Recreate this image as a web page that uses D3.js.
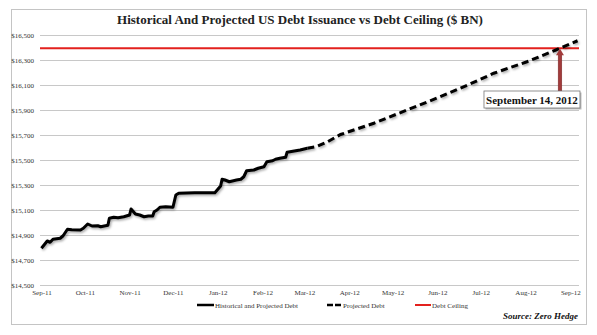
<!DOCTYPE html>
<html><head><meta charset="utf-8">
<script src="https://cdnjs.cloudflare.com/ajax/libs/d3/7.8.5/d3.min.js"></script>
<style>body{margin:0;background:#fff}svg{display:block}text{font-family:"Liberation Serif","DejaVu Serif",serif}</style>
</head><body><svg id="c" width="597" height="335"></svg>
<script>
// ---- data ----
const histDates = ["2011-09-01","2011-09-05","2011-09-07","2011-09-09","2011-09-14","2011-09-16","2011-09-19","2011-09-22","2011-09-28","2011-09-30",
 "2011-10-03","2011-10-06","2011-10-10","2011-10-12","2011-10-17","2011-10-18","2011-10-21","2011-10-24","2011-10-28",
 "2011-11-01","2011-11-02","2011-11-05","2011-11-08","2011-11-11","2011-11-14","2011-11-17","2011-11-18","2011-11-20","2011-11-22","2011-11-26",
 "2011-12-01","2011-12-03","2011-12-05","2011-12-16","2011-12-30",
 "2012-01-03","2012-01-04","2012-01-06","2012-01-09","2012-01-14","2012-01-17","2012-01-19","2012-01-21","2012-01-26","2012-01-29",
 "2012-02-02","2012-02-04","2012-02-08","2012-02-10","2012-02-13","2012-02-17","2012-02-18","2012-02-23","2012-02-27","2012-03-03"];
const histValues = [14794,14852,14842,14866,14874,14894,14946,14942,14940,14954,
 14988,14972,14974,14966,14978,15034,15042,15038,15046,
 15060,15108,15068,15060,15046,15052,15052,15086,15100,15122,15126,
 15122,15220,15234,15238,15238,
 15292,15346,15340,15326,15340,15346,15366,15414,15420,15434,
 15446,15486,15494,15506,15514,15522,15562,15572,15580,15594];
const projDates = ["2012-03-03","2012-03-09","2012-03-17","2012-03-26","2012-04-18","2012-05-11","2012-06-03","2012-06-22","2012-07-10","2012-08-02","2012-08-22","2012-09-06"];
const projValues = [15594,15606,15646,15704,15794,15900,16006,16100,16194,16286,16380,16454];
const debtCeiling = 16394;
const yTicks = [14500,14700,14900,15100,15300,15500,15700,15900,16100,16300,16500];
const xTickDates = ["2011-09-01","2011-10-01","2011-11-01","2011-12-01","2012-01-01","2012-02-01","2012-03-01","2012-04-01","2012-05-01","2012-06-01","2012-07-01","2012-08-01","2012-09-01"];
const xTickLabels = ["Sep-11","Oct-11","Nov-11","Dec-11","Jan-12","Feb-12","Mar-12","Apr-12","May-12","Jun-12","Jul-12","Aug-12","Sep-12"];
const titleText = "Historical And Projected US Debt Issuance vs Debt Ceiling ($ BN)";
const annotText = "September 14, 2012";
const legendLabels = ["Historical and Projected Debt","Projected Debt","Debt Ceiling"];
const sourceText = "Source: Zero Hedge";

// ---- chart ----
const parse = d3.timeParse("%Y-%m-%d");
const svg = d3.select("#c");
const L = 40, R = 579, T = 35, B = 285;
const x = d3.scaleTime().domain([parse("2011-08-31"), parse("2012-09-07")]).range([L, R]);
const y = d3.scaleLinear().domain([14500, 16500]).range([B, T]);

const defs = svg.append("defs");
const f = defs.append("filter").attr("id","sh").attr("x","-10%").attr("y","-10%").attr("width","120%").attr("height","130%");
f.append("feDropShadow").attr("dx",1.2).attr("dy",1.5).attr("stdDeviation",0.8).attr("flood-color","#000").attr("flood-opacity",0.35);

// outer frame
svg.append("rect").attr("x",11.5).attr("y",9.5).attr("width",575).attr("height",315)
  .attr("fill","#fff").attr("stroke","#c4c4c4");

// title
svg.append("text").attr("x",300).attr("y",24).attr("text-anchor","middle")
  .attr("font-size",13).attr("font-weight","bold").attr("fill","#222").text(titleText);

// y axis (gridlines + labels)
const yAxis = d3.axisLeft(y).tickValues(yTicks).tickSize(-(R - L)).tickPadding(6)
  .tickFormat(d => "$" + d3.format(",")(d));
const gy = svg.append("g").attr("transform",`translate(${L},0)`).call(yAxis);
gy.select(".domain").remove();
gy.selectAll(".tick line").attr("stroke","#c8c8c8");
gy.selectAll(".tick text").attr("font-size",7).attr("fill","#333")
  .attr("font-family","Liberation Serif");

// x axis labels
const xAxis = d3.axisBottom(x).tickValues(xTickDates.map(parse)).tickSize(0).tickPadding(5)
  .tickFormat((d,i) => xTickLabels[i]);
const gx = svg.append("g").attr("transform",`translate(0,${B})`).call(xAxis);
gx.select(".domain").remove();
gx.selectAll(".tick text").attr("font-size",7).attr("fill","#333")
  .attr("font-family","Liberation Serif");

// debt ceiling
svg.append("line").attr("x1",L).attr("x2",R).attr("y1",y(debtCeiling)).attr("y2",y(debtCeiling))
  .attr("stroke","#e3211e").attr("stroke-width",2);

const line = d3.line().x(d => x(d[0])).y(d => y(d[1]));
const hist = histDates.map((d,i) => [parse(d), histValues[i]]);
const proj = projDates.map((d,i) => [parse(d), projValues[i]]);

svg.append("path").datum(hist).attr("d",line).attr("fill","none").attr("stroke","#000")
  .attr("stroke-width",3).attr("stroke-linejoin","round").attr("filter","url(#sh)");
svg.append("path").datum(proj).attr("d",line).attr("fill","none").attr("stroke","#000")
  .attr("stroke-width",3).attr("stroke-dasharray","7,4").attr("filter","url(#sh)");

// intersection of projection with ceiling
let ix = null;
for (let i = 1; i < proj.length; i++) {
  const a = proj[i-1], b = proj[i];
  if (a[1] <= debtCeiling && b[1] >= debtCeiling) {
    const t = (debtCeiling - a[1]) / (b[1] - a[1]);
    ix = x(a[0]) + t * (x(b[0]) - x(a[0]));
    break;
  }
}
const iy = y(debtCeiling);

// annotation arrow
const ac = "#a23b3b";
svg.append("rect").attr("x",ix - 1.8).attr("y",iy + 6).attr("width",3.6).attr("height",91 - (iy + 6))
  .attr("fill",ac).attr("stroke","#7a2a2a").attr("stroke-width",0.5);
svg.append("path").attr("d",`M${ix},${iy+0.5} L${ix-4},${iy+7} L${ix+4},${iy+7} Z`).attr("fill",ac);

// annotation box
const bw = 96, bh = 17, bx = ix - 76, by = 91;
svg.append("rect").attr("x",bx+1.5).attr("y",by+1.5).attr("width",bw).attr("height",bh).attr("fill","#bbb");
svg.append("rect").attr("x",bx).attr("y",by).attr("width",bw).attr("height",bh)
  .attr("fill","#fff").attr("stroke","#777").attr("stroke-width",0.8);
svg.append("text").attr("x",bx + bw/2).attr("y",by + 12.5).attr("text-anchor","middle")
  .attr("font-size",11).attr("font-weight","bold").attr("fill","#111").text(annotText);

// legend
const ly = 305;
const lg = svg.append("g");
lg.append("line").attr("x1",197).attr("x2",214).attr("y1",ly).attr("y2",ly).attr("stroke","#000").attr("stroke-width",2.5);
lg.append("text").attr("x",215).attr("y",ly+2.5).attr("font-size",7).attr("fill","#333").text(legendLabels[0]);
lg.append("line").attr("x1",327).attr("x2",341).attr("y1",ly).attr("y2",ly).attr("stroke","#000").attr("stroke-width",2.5).attr("stroke-dasharray","6,2");
lg.append("text").attr("x",343).attr("y",ly+2.5).attr("font-size",7).attr("fill","#333").text(legendLabels[1]);
lg.append("line").attr("x1",415).attr("x2",431).attr("y1",ly).attr("y2",ly).attr("stroke","#e3211e").attr("stroke-width",2);
lg.append("text").attr("x",432).attr("y",ly+2.5).attr("font-size",7).attr("fill","#333").text(legendLabels[2]);

svg.append("text").attr("x",578).attr("y",319).attr("text-anchor","end").attr("font-size",9)
  .attr("font-weight","bold").attr("font-style","italic").attr("fill","#111").text(sourceText);
</script></body></html>
